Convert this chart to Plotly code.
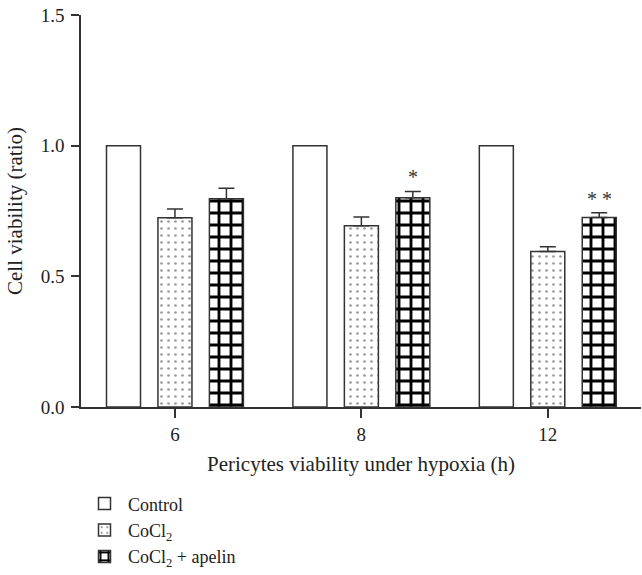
import plotly.graph_objects as go

categories = ["6", "8", "12"]
control = [1.0, 1.0, 1.0]
cocl2 = [0.724, 0.694, 0.595]
cocl2_err = [0.034, 0.033, 0.018]
apelin = [0.797, 0.801, 0.725]
apelin_err = [0.040, 0.024, 0.018]
apelin_sig = ["", "*", "* *"]
y_ticks = [0.0, 0.5, 1.0, 1.5]
y_ticklabels = ["0.0", "0.5", "1.0", "1.5"]

FONT = "Liberation Serif, Times New Roman, serif"
LINE = "#333333"

fig = go.Figure()
fig.add_trace(go.Bar(
    x=categories, y=control, name="Control",
    marker=dict(color="white", line=dict(color=LINE, width=1.5)),
))
fig.add_trace(go.Bar(
    x=categories, y=cocl2, name="CoCl<sub>2</sub>",
    marker=dict(color="white", line=dict(color=LINE, width=1.5),
                pattern=dict(shape=".", size=7, solidity=0.12,
                             fgcolor="#333333", bgcolor="white")),
    error_y=dict(type="data", array=cocl2_err, symmetric=False,
                 arrayminus=[0] * len(cocl2_err),
                 color=LINE, thickness=1.5, width=8),
))
fig.add_trace(go.Bar(
    x=categories, y=apelin, name="CoCl<sub>2</sub> + apelin",
    marker=dict(color="white", line=dict(color=LINE, width=1.5),
                pattern=dict(shape="+", size=12, solidity=0.42,
                             fgcolor="#000000", fgopacity=1, bgcolor="white")),
    error_y=dict(type="data", array=apelin_err, symmetric=False,
                 arrayminus=[0] * len(apelin_err),
                 color=LINE, thickness=1.5, width=8),
))

for i, (v, e, s) in enumerate(zip(apelin, apelin_err, apelin_sig)):
    if s:
        fig.add_annotation(x=i, xref="x", y=v + e, yref="y", text=s,
                           showarrow=False, xshift=51.5, yshift=1,
                           yanchor="bottom",
                           font=dict(family=FONT, size=20, color="#333"))

fig.update_layout(
    width=642, height=575,
    margin=dict(l=81, r=1, t=15, b=168, autoexpand=False),
    plot_bgcolor="white", paper_bgcolor="white",
    barmode="group", bargap=0.172, bargroupgap=0.339,
    font=dict(family=FONT, size=20, color="#222"),
    showlegend=True,
    legend=dict(x=0.0, y=-0.2, xanchor="left", yanchor="top",
                orientation="v", font=dict(family=FONT, size=18, color="#222"),
                itemwidth=37, tracegroupgap=0, bgcolor="rgba(0,0,0,0)"),
    xaxis=dict(
        type="category", range=[-0.504, 2.5], automargin=False,
        showline=True, linecolor=LINE, linewidth=1.5,
        ticks="outside", ticklen=9, tickwidth=1.5, tickcolor=LINE,
        tickfont=dict(family=FONT, size=19, color="#222"),
        title=dict(text="Pericytes viability under hypoxia (h)",
                   font=dict(family=FONT, size=21, color="#222"), standoff=13),
        showgrid=False, zeroline=False,
    ),
    yaxis=dict(
        range=[0, 1.5], tickvals=y_ticks, ticktext=y_ticklabels, automargin=False,
        showline=True, linecolor=LINE, linewidth=1.5,
        ticks="outside", ticklen=8, tickwidth=1.5, tickcolor=LINE,
        ticklabelstandoff=3,
        tickfont=dict(family=FONT, size=19, color="#222"),
        title=dict(text="Cell viability (ratio)",
                   font=dict(family=FONT, size=21, color="#222"), standoff=12),
        showgrid=False, zeroline=False,
    ),
)

fig.write_html("out.html", config={"displayModeBar": False},
               post_script="document.body.style.margin='0';document.body.style.padding='0';")
